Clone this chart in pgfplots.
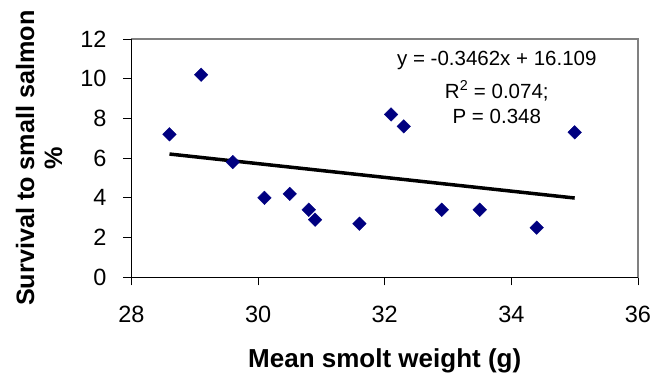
\documentclass[border=0pt]{standalone}
\usepackage{fontspec}
\setmainfont{Liberation Sans}
\usepackage{pgfplots}
\pgfplotsset{compat=1.18}
\usetikzlibrary{calc}
\definecolor{navy}{RGB}{0,0,128}
\begin{document}
\begin{tikzpicture}
\begin{axis}[
 scale only axis, width=506.5pt, height=238.3pt,
 xmin=28, xmax=36, ymin=0, ymax=12,
 xtick={28,30,32,34,36}, ytick={0,2,4,6,8,10,12},
 xtick pos=bottom, ytick pos=left, tick align=outside,
 major tick length=8pt,
 tick style={black, line width=0.9pt},
 axis line style={draw=gray, line width=1.5pt},
 ticklabel style={font=\fontsize{23.5}{27}\selectfont},
 /pgf/number format/assume math mode=true,
 xticklabel style={anchor=center, yshift=-29.5pt},
 yticklabel style={anchor=east, xshift=-13.5pt},
 xlabel={Mean smolt weight (g)},
 ylabel={Survival to small salmon\\\%},
 xlabel style={font=\bfseries\fontsize{26}{29}\selectfont, at={(axis description cs:0.5,-0.351)}, anchor=center},
 ylabel style={font=\bfseries\fontsize{25.2}{28}\selectfont, at={(axis description cs:-0.1826,0.5)}, anchor=center, align=center},
 clip=false,
]
\addplot[only marks, mark=square*, mark size=4.8pt, mark options={rotate=45, fill=navy, draw=navy}] coordinates {
 (28.6,7.2) (29.1,10.2) (29.6,5.8) (30.1,4.0) (30.5,4.2) (30.8,3.4) (30.9,2.9)
 (31.6,2.7) (32.1,8.2) (32.3,7.6) (32.9,3.4) (33.5,3.4) (34.4,2.5) (35.0,7.3)
};
\addplot[black, line width=3.5pt] coordinates {(28.6,6.2077) (35.0,3.992)};
\draw[black, line width=1.2pt] (rel axis cs:0,1) -- (rel axis cs:0,0) -- (rel axis cs:1,0);
\node[font=\fontsize{20.5}{24}\selectfont] at (axis cs:33.77,10.94) {y = -0.3462x + 16.109};
\node[font=\fontsize{20.5}{24}\selectfont] at (axis cs:33.77,9.38) {R\textsuperscript{2} = 0.074;};
\node[font=\fontsize{20.5}{24}\selectfont] at (axis cs:33.77,8.09) {P = 0.348};
\end{axis}
\pgfresetboundingbox
\path ($(current axis.south west)+(-131.5pt,-101.7pt)$) rectangle ($(current axis.north east)+(17pt,39pt)$);
\end{tikzpicture}
\end{document}
